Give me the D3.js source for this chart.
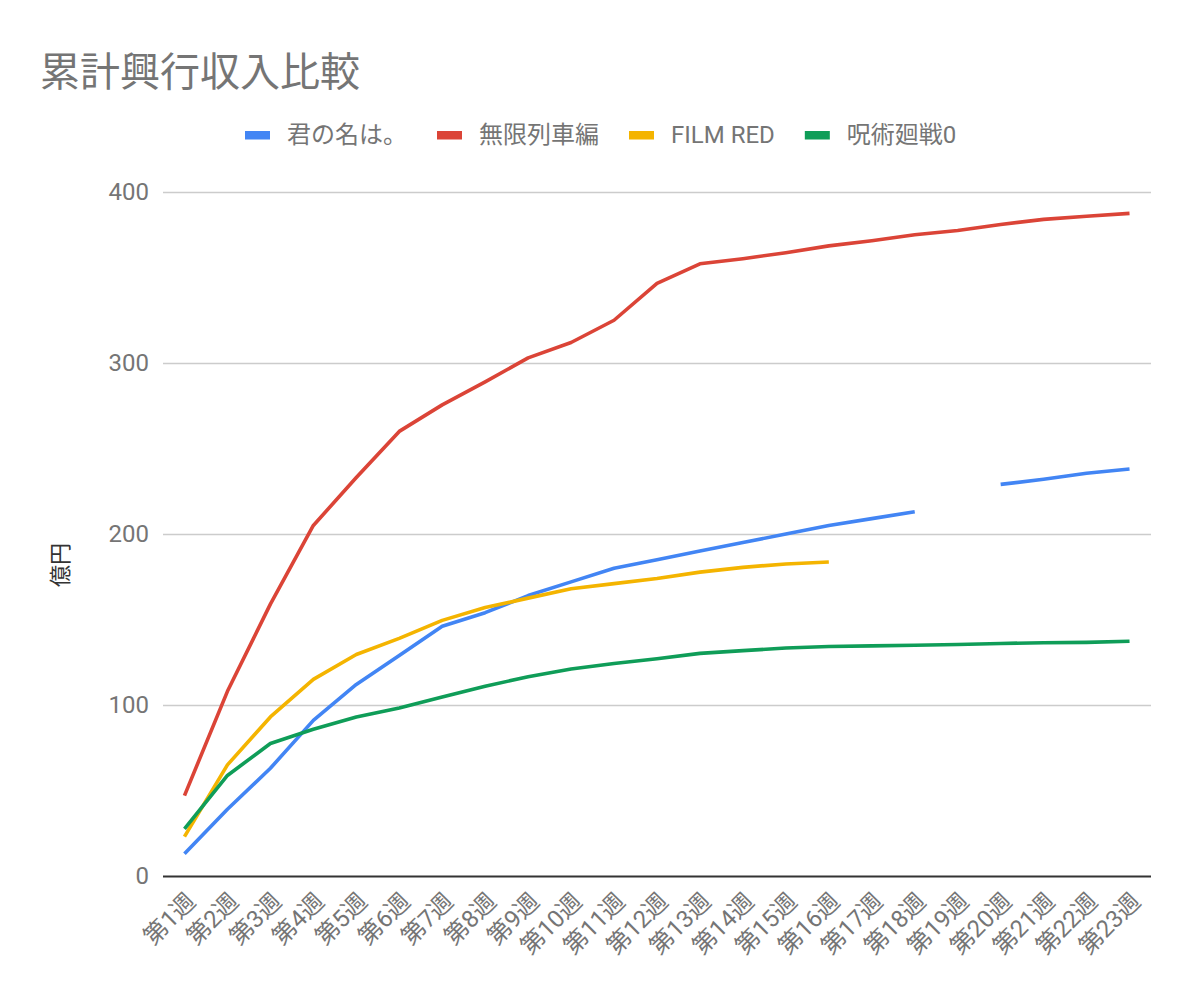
<!DOCTYPE html>
<html lang="ja">
<head>
    <meta charset="UTF-8">
    <title>累計興行収入比較</title>
    <script src="https://d3js.org/d3.v7.min.js" charset="utf-8"></script>
    <style>
        body { margin: 0; background: #fff; }
        svg text { font-family: Roboto, "Noto Sans CJK JP", sans-serif; }
    </style>
</head>
<body>
    <div id="chart"></div>
    <script>
        // weeks on the x axis
        const weeks = d3.range(1, 24).map(i => `第${i}週`);

        // cumulative box office, 億円 (null = no data that week)
        const kiminonawa = [13, 39, 63, 91, 112, 129, 146, 154, 164, 172, 180, 185, 190, 195, 200, 205, 209, 213, null, 229, 232, 235.5, 238];
        const mugen = [47, 108, 159, 205, 233, 260, 275.5, 289, 303, 312, 325, 346.5, 358, 361, 364.5, 368.5, 371.5, 375, 377.5, 381, 384, 385.8, 387.5];
        const filmRed = [23, 65, 93, 115, 129.5, 139, 149.5, 157, 162.5, 168, 171, 174, 177.7, 180.5, 182.5, 183.6];
        const jujutsu = [27.5, 58.8, 77.5, 85.8, 93, 98.3, 104.7, 111, 116.5, 121, 124.3, 127, 130.2, 131.8, 133.3, 134.2, 134.6, 134.9, 135.4, 136, 136.4, 136.6, 137.3];

        const seriesNames = ["君の名は。", "無限列車編", "FILM RED", "呪術廻戦0"];
        const seriesColors = ["#4285f4", "#db4437", "#f4b400", "#0f9d58"];
        const seriesValues = [kiminonawa, mugen, filmRed, jujutsu];

        const yTicks = [0, 100, 200, 300, 400];

        const width = 1200, height = 1000;
        const plot = { left: 163, right: 1151, top: 192, bottom: 876 };

        const svg = d3.select("#chart").append("svg")
            .attr("width", width)
            .attr("height", height);

        const x = d3.scalePoint()
            .domain(weeks)
            .range([plot.left, plot.right])
            .padding(0.5);

        const y = d3.scaleLinear()
            .domain([0, 400])
            .range([plot.bottom, plot.top]);

        // title
        svg.append("text")
            .attr("x", 40)
            .attr("y", 86)
            .attr("font-size", 40)
            .attr("fill", "#757575")
            .text("累計興行収入比較");

        // gridlines + y labels
        const yAxis = d3.axisLeft(y)
            .tickValues(yTicks)
            .tickSize(-(plot.right - plot.left))
            .tickPadding(14);

        const gy = svg.append("g")
            .attr("transform", `translate(${plot.left},0)`)
            .call(yAxis);
        gy.select(".domain").remove();
        gy.selectAll(".tick line")
            .attr("stroke", d => d === 0 ? "#333333" : "#cccccc")
            .attr("stroke-width", d => d === 0 ? 2 : 1.4);
        gy.selectAll(".tick text")
            .attr("font-size", 24)
            .attr("fill", "#757575");

        // y axis title
        svg.append("text")
            .attr("transform", `translate(68,565) rotate(-90)`)
            .attr("text-anchor", "middle")
            .attr("font-size", 22)
            .attr("fill", "#333333")
            .text("億円");

        // x labels
        const gx = svg.append("g")
            .attr("transform", `translate(0,${plot.bottom})`)
            .call(d3.axisBottom(x).tickSize(0).tickPadding(0));
        gx.select(".domain").remove();
        gx.selectAll(".tick text")
            .attr("font-size", 24)
            .attr("fill", "#757575")
            .attr("text-anchor", "end")
            .attr("dy", null)
            .attr("y", 0)
            .attr("transform", "translate(12,27) rotate(-45)");

        // lines
        const line = d3.line()
            .defined(d => d != null)
            .x((d, i) => x(weeks[i]))
            .y(d => y(d));

        svg.append("g").selectAll("path")
            .data(seriesValues)
            .join("path")
            .attr("d", line)
            .attr("fill", "none")
            .attr("stroke", (d, i) => seriesColors[i])
            .attr("stroke-width", 3.6)
            .attr("stroke-linejoin", "round");

        // legend
        const legend = svg.append("g");
        let lx = 245;
        seriesNames.forEach((name, i) => {
            legend.append("rect")
                .attr("x", lx)
                .attr("y", 131)
                .attr("width", 25)
                .attr("height", 8.5)
                .attr("fill", seriesColors[i]);
            const t = legend.append("text")
                .attr("x", lx + 42)
                .attr("y", 143)
                .attr("font-size", 24)
                .attr("fill", "#757575")
                .text(name);
            lx += 42 + t.node().getComputedTextLength() + 30;
        });
    </script>
</body>
</html>
